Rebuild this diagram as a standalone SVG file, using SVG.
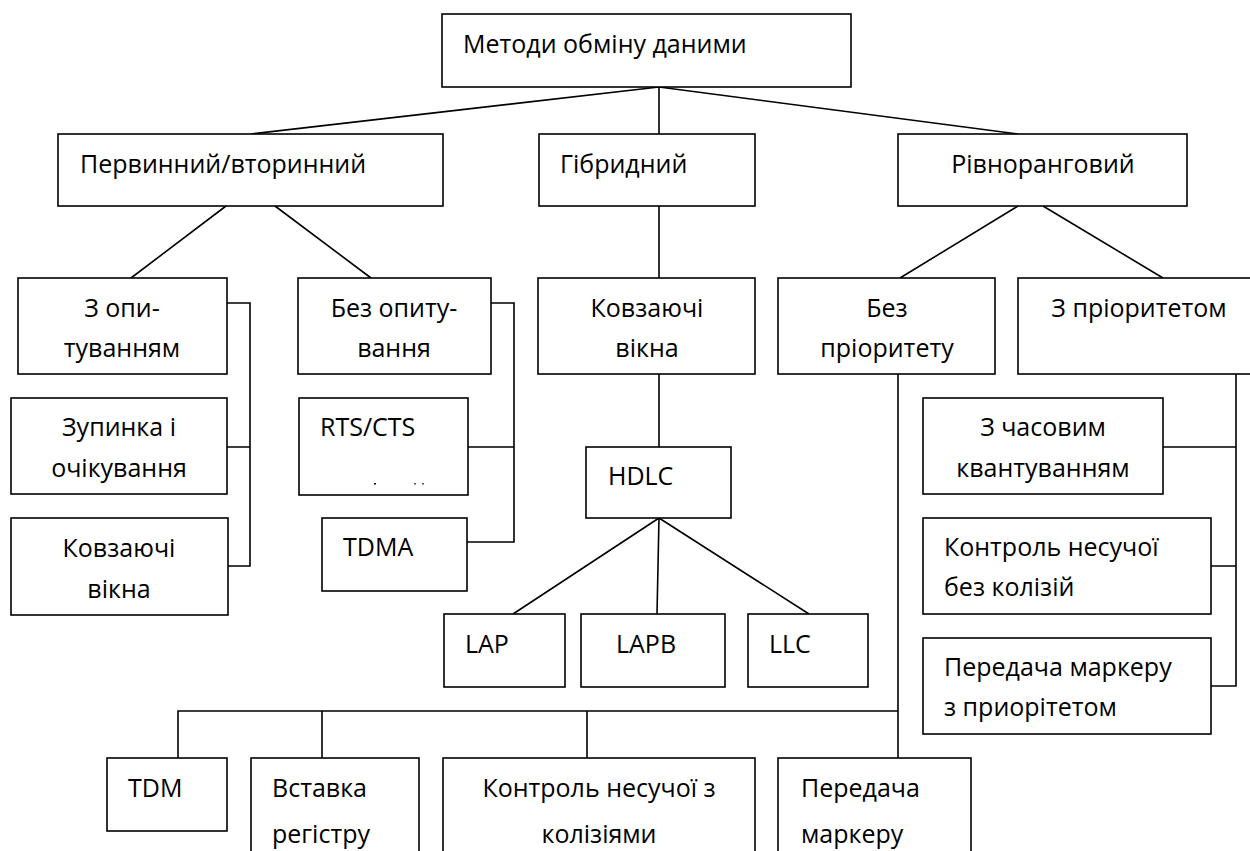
<svg xmlns="http://www.w3.org/2000/svg" width="1250" height="851" viewBox="0 0 1250 851">
<style>
  rect.b { fill: #fff; stroke: #000; stroke-width: 1.6; }
  text { font-family: "Open Sans", "Noto Sans", "Liberation Sans", sans-serif; font-size: 25px; fill: #000; }
  .c { text-anchor: middle; }
  #connectors path { fill: none; stroke: #000; stroke-width: 1.6; }
</style>
<rect width="1250" height="851" fill="#fff"/>
<g id="connectors">
  <path d="M659,87 L251,134 M659,87 V134 M659,87 L1018,134"/>
  <path d="M226,206 L131,278 M275,206 L371,278"/>
  <path d="M659,206 V278 M659,374 V447"/>
  <path d="M659,518 L513,614 M659,518 L657,614 M659,518 L809,614"/>
  <path d="M1018,206 L900,278 M1043,206 L1163,278"/>
  <path d="M227,303 H250 V566 H228 M227,447 H250"/>
  <path d="M491,303 H514 V542 H467 M468,447 H514"/>
  <path d="M898,374 V758 M178,758 V711 H898 M322,711 V758 M587,711 V758"/>
  <path d="M1236,374 V686 H1211 M1163,447 H1236 M1211,566 H1236"/>
</g>
<g id="root"><rect class="b" x="442" y="14" width="409" height="73"/><text x="463" y="53">Методи обміну даними</text></g>
<g id="primary"><rect class="b" x="58" y="134" width="385" height="72"/><text x="80" y="173">Первинний/вторинний</text></g>
<g id="hybrid"><rect class="b" x="539" y="134" width="216" height="72"/><text x="560" y="173">Гібридний</text></g>
<g id="peer"><rect class="b" x="898" y="134" width="289" height="72"/><text class="c" x="1043" y="173">Рівноранговий</text></g>
<g id="polling"><rect class="b" x="18" y="278" width="209" height="96"/><text class="c" x="122" y="317">З опи-</text><text class="c" x="122" y="357">туванням</text></g>
<g id="nopolling"><rect class="b" x="298" y="278" width="193" height="96"/><text class="c" x="394" y="317">Без опиту-</text><text class="c" x="394" y="357">вання</text></g>
<g id="sliding-mid"><rect class="b" x="538" y="278" width="217" height="96"/><text class="c" x="647" y="317">Ковзаючі</text><text class="c" x="647" y="357">вікна</text></g>
<g id="nopriority"><rect class="b" x="778" y="278" width="217" height="96"/><text class="c" x="887" y="317">Без</text><text class="c" x="887" y="357">пріоритету</text></g>
<g id="priority"><rect class="b" x="1018" y="278" width="244" height="96"/><text class="c" x="1139" y="317">З пріоритетом</text></g>
<g id="stopwait"><rect class="b" x="11" y="398" width="216" height="96"/><text class="c" x="119" y="436">Зупинка і</text><text class="c" x="119" y="477">очікування</text></g>
<g id="rtscts"><rect class="b" x="299" y="398" width="169" height="97"/><text x="320" y="436">RTS/CTS</text>
  <rect x="374" y="483" width="2" height="1.5" fill="#000"/><rect x="414" y="483" width="2" height="1.5" fill="#555"/><rect x="422" y="483" width="2" height="1.5" fill="#555"/></g>
<g id="timeslot"><rect class="b" x="923" y="398" width="240" height="96"/><text class="c" x="1043" y="436">З часовим</text><text class="c" x="1043" y="477">квантуванням</text></g>
<g id="hdlc"><rect class="b" x="586" y="447" width="145" height="71"/><text x="608" y="485">HDLC</text></g>
<g id="sliding-left"><rect class="b" x="11" y="518" width="217" height="97"/><text class="c" x="119" y="557">Ковзаючі</text><text class="c" x="119" y="598">вікна</text></g>
<g id="tdma"><rect class="b" x="322" y="518" width="145" height="73"/><text x="343" y="556">TDMA</text></g>
<g id="csma-nc"><rect class="b" x="923" y="518" width="288" height="96"/><text x="944" y="556">Контроль несучої</text><text x="944" y="596">без колізій</text></g>
<g id="lap"><rect class="b" x="444" y="614" width="121" height="73"/><text x="465" y="653">LAP</text></g>
<g id="lapb"><rect class="b" x="581" y="614" width="144" height="73"/><text x="616" y="653">LAPB</text></g>
<g id="llc"><rect class="b" x="748" y="614" width="120" height="73"/><text x="769" y="653">LLC</text></g>
<g id="token-pr"><rect class="b" x="923" y="638" width="288" height="96"/><text x="944" y="676">Передача маркеру</text><text x="944" y="716">з приорітетом</text></g>
<g id="tdm"><rect class="b" x="107" y="758" width="120" height="73"/><text x="128" y="797">TDM</text></g>
<g id="register"><rect class="b" x="251" y="758" width="168" height="110"/><text x="272" y="797">Вставка</text><text x="272" y="843">регістру</text></g>
<g id="csma-cd"><rect class="b" x="443" y="758" width="312" height="110"/><text class="c" x="599" y="797">Контроль несучої з</text><text class="c" x="599" y="843">колізіями</text></g>
<g id="token"><rect class="b" x="778" y="758" width="193" height="110"/><text x="801" y="797">Передача</text><text x="801" y="843">маркеру</text></g>
</svg>
